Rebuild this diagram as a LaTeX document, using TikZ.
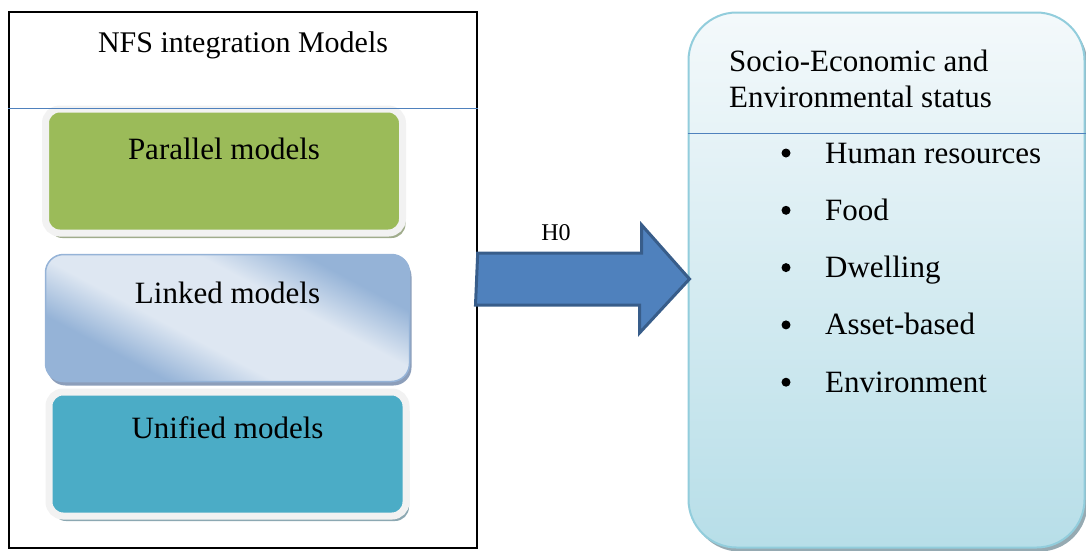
\documentclass[tikz,border=0pt]{standalone}
\usepackage{fontspec}
\setmainfont{Liberation Serif}
\usepackage{xcolor}
\definecolor{olivegreen}{RGB}{155,187,89}
\definecolor{tealbox}{RGB}{75,172,198}
\definecolor{linkdark}{RGB}{149,179,215}
\definecolor{linklight}{RGB}{222,231,242}
\definecolor{rimgray}{RGB}{242,242,242}
\definecolor{arrowblue}{RGB}{79,129,189}
\definecolor{arrowedge}{RGB}{56,93,138}
\definecolor{statusedge}{RGB}{146,205,220}
\definecolor{statustop}{RGB}{244,249,251}
\definecolor{statusbot}{RGB}{183,222,232}
\usetikzlibrary{positioning,calc,shadows}
\pgfdeclareverticalshading{linkedshade}{100bp}{color(0bp)=(linkdark); color(30bp)=(linkdark); color(42bp)=(linklight); color(60bp)=(linklight); color(72bp)=(linkdark); color(100bp)=(linkdark)}
\tikzset{
  panel/.style    ={rectangle,draw=black,line width=1.4pt,minimum width=468pt,minimum height=536pt},
  divider/.style  ={draw=arrowblue,line width=1.3pt},
  rimbox/.style   ={rectangle,rounded corners=14pt,draw=rimgray,line width=7pt,
                    minimum width=357pt,minimum height=124pt},
  greenbox/.style ={rimbox,fill=olivegreen,
                    drop shadow={shadow xshift=3pt,shadow yshift=-5pt,fill={rgb,255:red,160;green,172;blue,140},opacity=1}},
  tealbx/.style   ={rimbox,fill=tealbox,
                    drop shadow={shadow xshift=3pt,shadow yshift=-5pt,fill={rgb,255:red,140;green,168;blue,178},opacity=1}},
  linkbox/.style  ={rectangle,rounded corners=18pt,draw=linkdark,line width=1.5pt,shading=linkedshade,shading angle=-28,
                    minimum width=364pt,minimum height=127pt,
                    drop shadow={shadow xshift=2pt,shadow yshift=-4pt,fill={rgb,255:red,140;green,158;blue,186},opacity=1}},
  statusbox/.style={rectangle,rounded corners=48pt,draw=statusedge,line width=2pt,top color=statustop,bottom color=statusbot,
                    minimum width=396pt,minimum height=535pt,
                    drop shadow={shadow xshift=3pt,shadow yshift=-4pt,fill={rgb,255:red,150;green,170;blue,178},opacity=1}},
  boxtext/.style  ={font=\fontsize{31}{36}\selectfont,inner sep=0pt},
  headtext/.style ={font=\fontsize{30}{36}\selectfont,inner sep=0pt},
  itemtext/.style ={font=\fontsize{31}{36}\selectfont,inner sep=0pt,anchor=base west},
  bulletdot/.style={circle,fill=black,inner sep=0pt,minimum size=9pt},
  blockarrow/.style={fill=arrowblue,draw=arrowedge,line width=3pt,line join=miter},
}

\begin{document}
\begin{tikzpicture}[x=1pt,y=-1pt]
  \useasboundingbox (0,0) rectangle (1086,550);
  % left panel with the three models
  \node[panel] (models) at (243,280) {};
  \node[headtext,anchor=base] (modelstitle) at (243,52) {NFS integration Models};
  \node[greenbox] (parallel) at (224,171) {};
  \node[boxtext] at ($(parallel.north)+(0,43)$) {Parallel models};
  \node[linkbox] (linked) at (227.5,318) {};
  \node[boxtext] at ($(linked.north)+(0,39)$) {Linked models};
  \node[tealbx] (unified) at (227.5,454) {};
  \node[boxtext] at ($(unified.north)+(0,39)$) {Unified models};
  \draw[divider] ($(models.north west)+(0,97)$) -- ($(models.north east)+(0,97)$);
  % right panel
  \node[statusbox] (status) at (886.5,280) {};
  \draw[divider] ($(status.north west)+(0,122)$) -- ($(status.north east)+(0,122)$);
  \node[headtext,font=\fontsize{31}{36}\selectfont,align=left,anchor=base west] (statustitle) at (729,107)
    {Socio-Economic and\\Environmental status};
  \foreach \txt [count=\i] in {Human resources,Food,Dwelling,Asset-based,Environment}{
    \node[itemtext] (item\i) at (825,163+57.3*\i-57.3) {\txt};
    \node[bulletdot] (dot\i) at (786,153+57.3*\i-57.3) {};
  }
  % hypothesis arrow
  \draw[blockarrow] ($(models.east)+(0,-27)$) -- ++(164,0) -- ++(0,-28)
    -- ($(status.west)+(2,-1)$) -- ++(-50,54) -- ++(0,-28) -- ++(-164,0) -- cycle;
  \node[headtext,font=\fontsize{24}{28}\selectfont] (hzero) at (556,233) {H0};
\end{tikzpicture}
\end{document}
